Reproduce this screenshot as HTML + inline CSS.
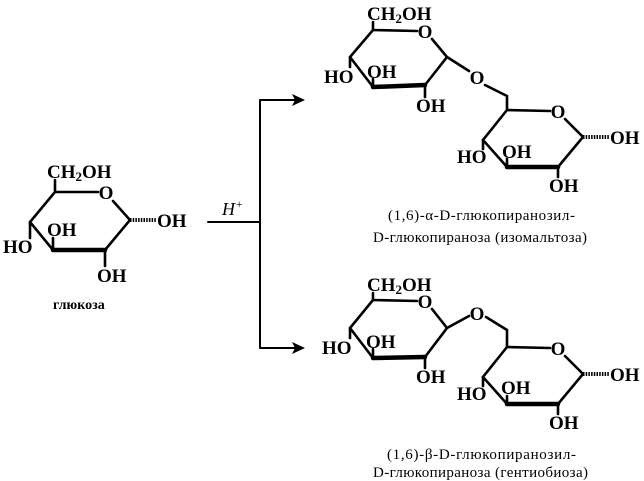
<!DOCTYPE html>
<html><head><meta charset="utf-8"><style>
html,body{margin:0;padding:0;background:#fff;}
svg{display:block;}
text{font-family:"Liberation Serif",serif;font-weight:bold;fill:#000;}
.l{font-size:19px;}
.o{font-size:19px;text-anchor:middle;}
.c{font-size:15px;font-weight:normal;}
</style></head><body>
<svg width="644" height="481" viewBox="0 0 644 481" xmlns="http://www.w3.org/2000/svg">
<g stroke="#000" stroke-width="2.6" fill="none" stroke-linecap="round">
<!-- glucose -->
<path d="M55,192 L98,192 M113,201 L130,220 L105,250 M53,250 L30,222 L55,192 M55,192 L55,180 M30,222 L30,238 M53,250 L53,238 M105,250 L105,266"/>
<path d="M105,250 L53,250" stroke-width="4.5"/>
<path d="M130,220 L156,220" stroke-width="4" stroke-dasharray="1.5 1.2" stroke-linecap="butt"/>
<!-- iso ring1 -->
<path d="M373,30 L417,31 M432,39 L447,57 L425,85 M373,87 L350,57 L373,30 M373,30 L373,22 M350,57 L350,67 M373,87 L373,79 M425,85 L425,97 M447,57 L469,71 M485,85 L507,96 L507,110"/>
<path d="M425,85 L373,87" stroke-width="4.5"/>
<!-- iso ring2 -->
<path d="M507,110 L550,111 M565,119 L583,137 L558,167 M507,167 L483,140 L507,110 M483,140 L483,149 M507,167 L507,159 M558,167 L558,177"/>
<path d="M558,167 L507,167" stroke-width="4.5"/>
<path d="M583,137 L609,137" stroke-width="4" stroke-dasharray="1.5 1.2" stroke-linecap="butt"/>
<!-- gentio ring1 -->
<path d="M373,300 L417,301 M432,309 L447,328 L425,357 M373,358 L350,328 L373,300 M373,300 L373,293 M350,328 L350,338 M373,358 L373,349 M425,357 L425,368 M447,328 L469,316 M486,317 L507,330 L507,347"/>
<path d="M425,357 L373,358" stroke-width="4.5"/>
<!-- gentio ring2 -->
<path d="M507,347 L550,348 M565,356 L583,374 L558,404 M507,404 L483,377 L507,347 M483,377 L483,386 M507,404 L507,396 M558,404 L558,414"/>
<path d="M558,404 L507,404" stroke-width="4.5"/>
<path d="M583,374 L609,374" stroke-width="4" stroke-dasharray="1.5 1.2" stroke-linecap="butt"/>
<!-- arrows -->
<path d="M208,222 L260,222 M260,100 L260,348 M260,100 L296,100 M260,348 L296,348" stroke-width="2"/>
</g>
<path d="M305,100 L292,94 L295,100 L292,106 Z M305,348 L292,342 L295,348 L292,354 Z" fill="#000"/>
<text x="222" y="215" style="font-size:18px;font-style:italic;font-weight:normal">H<tspan dy="-7" font-size="12">+</tspan></text>

<!-- glucose labels -->
<text class="l" x="47" y="178">CH<tspan font-size="13" dy="3">2</tspan><tspan dy="-3">OH</tspan></text>
<text class="o" x="106" y="199">O</text>
<text class="l" x="157" y="227">OH</text>
<text class="l" x="3" y="253">HO</text>
<text class="l" x="47" y="236">OH</text>
<text class="l" x="97" y="282">OH</text>
<text x="53" y="309" style="font-size:14px">глюкоза</text>

<!-- iso labels -->
<text class="l" x="367" y="20">CH<tspan font-size="13" dy="3">2</tspan><tspan dy="-3">OH</tspan></text>
<text class="o" x="425" y="38">O</text>
<text class="o" x="477" y="84">O</text>
<text class="l" x="324" y="83">HO</text>
<text class="l" x="367" y="78">OH</text>
<text class="l" x="416" y="112">OH</text>
<text class="o" x="558" y="118">O</text>
<text class="l" x="610" y="144">OH</text>
<text class="l" x="457" y="163">HO</text>
<text class="l" x="502" y="158">OH</text>
<text class="l" x="549" y="192">OH</text>
<text class="c" x="388" y="220" textLength="187">(1,6)-α-D-глюкопиранозил-</text>
<text class="c" x="373" y="242" textLength="214">D-глюкопираноза (изомальтоза)</text>

<!-- gentio labels -->
<text class="l" x="367" y="291">CH<tspan font-size="13" dy="3">2</tspan><tspan dy="-3">OH</tspan></text>
<text class="o" x="425" y="308">O</text>
<text class="o" x="477" y="320">O</text>
<text class="l" x="322" y="354">HO</text>
<text class="l" x="366" y="348">OH</text>
<text class="l" x="416" y="383">OH</text>
<text class="o" x="558" y="355">O</text>
<text class="l" x="610" y="381">OH</text>
<text class="l" x="457" y="400">HO</text>
<text class="l" x="501" y="394">OH</text>
<text class="l" x="549" y="429">OH</text>
<text class="c" x="387" y="459" textLength="189">(1,6)-β-D-глюкопиранозил-</text>
<text class="c" x="373" y="477" textLength="215">D-глюкопираноза (гентиобиоза)</text>
</svg>
</body></html>
